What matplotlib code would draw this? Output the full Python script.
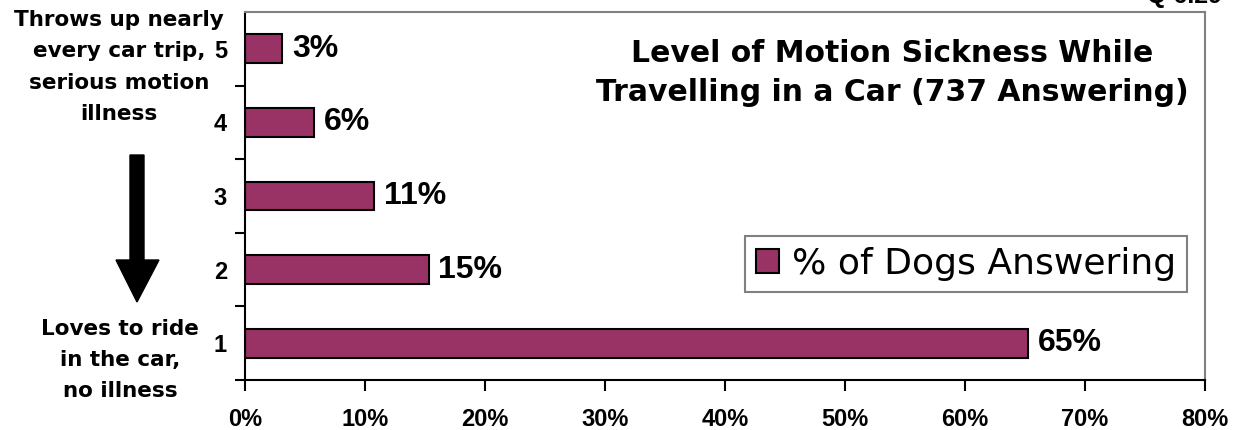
import matplotlib
matplotlib.use("Agg")
import matplotlib.pyplot as plt
from matplotlib import font_manager
from matplotlib.font_manager import FontProperties
from matplotlib.patches import Polygon

# Daten
stufen = [1, 2, 3, 4, 5]
stufen_labels = ["1", "2", "3", "4", "5"]
anteile = [65.25, 15.3, 10.75, 5.75, 3.1]
wert_labels = ["65%", "15%", "11%", "6%", "3%"]
x_ticks = [0, 10, 20, 30, 40, 50, 60, 70, 80]
x_tick_labels = ["0%", "10%", "20%", "30%", "40%", "50%", "60%", "70%", "80%"]

titel = "Level of Motion Sickness While\nTravelling in a Car (737 Answering)"
legende = "% of Dogs Answering"
text_oben = "Throws up nearly\nevery car trip,\nserious motion\nillness"
text_unten = "Loves to ride\nin the car,\nno illness"
frage = "Q 6.29"

FARBE = "#993366"
W, H = 1236, 430

# Liberation Sans Bold (normale Breite) suchen, sonst DejaVu
_arial_datei = None
for f in font_manager.fontManager.ttflist:
    if (f.name == "Liberation Sans" and f.weight in (700, "bold")
            and f.style == "normal" and f.stretch == "normal"
            and "narrow" not in f.fname.lower()):
        _arial_datei = f.fname
        break


def arial_bold(size):
    if _arial_datei:
        return FontProperties(fname=_arial_datei, size=size)
    return FontProperties(family="DejaVu Sans", weight="bold", size=size * 0.87)


fig = plt.figure(figsize=(W / 100, H / 100), dpi=100)
ax = fig.add_axes([245 / W, 1 - 380 / H, 960 / W, 368 / H])

balken = ax.barh(stufen, anteile, height=0.39, color=FARBE,
                 edgecolor="black", linewidth=1.5, label=legende)

for y, v, lab in zip(stufen, anteile, wert_labels):
    ax.text(v + 0.8, y, lab, va="center", ha="left", fontproperties=arial_bold(23))

ax.set_xlim(0, 80)
ax.set_ylim(0.5, 5.5)
ax.set_xticks(x_ticks)
ax.set_xticklabels(x_tick_labels, fontproperties=arial_bold(17))
ax.tick_params(axis="x", direction="out", length=8, width=1.5, pad=12)

ax.set_yticks(stufen)
ax.set_yticklabels(stufen_labels, fontproperties=arial_bold(17))
ax.tick_params(axis="y", which="major", length=0, pad=13)
ax.set_yticks([0.5, 1.5, 2.5, 3.5, 4.5], minor=True)
ax.tick_params(axis="y", which="minor", direction="out", length=7, width=1.5)

for s in ["left", "bottom"]:
    ax.spines[s].set_color("black")
    ax.spines[s].set_linewidth(1.5)
for s in ["top", "right"]:
    ax.spines[s].set_color("#808080")
    ax.spines[s].set_linewidth(1.5)

leg = ax.legend(loc="upper left", bbox_to_anchor=(0.521, 0.391), borderaxespad=0,
                fontsize=26, frameon=True, fancybox=False, framealpha=1,
                borderpad=0.3, handlelength=0.65, handleheight=0.65,
                handletextpad=0.35)
leg.get_frame().set_edgecolor("#808080")
leg.get_frame().set_linewidth(1.5)

# Titel und Beschriftungen links
fig.text(892 / W, 1 - 73 / H, titel, ha="center", va="center", fontsize=21.5,
         fontweight="bold", linespacing=1.45)
fig.text(119 / W, 1 - 67 / H, text_oben, ha="center", va="center", fontsize=15.5,
         fontweight="bold", linespacing=1.7)
fig.text(120 / W, 1 - 360 / H, text_unten, ha="center", va="center", fontsize=15.5,
         fontweight="bold", linespacing=1.7)
fig.text(1222 / W, 1 - 3 / H, frage, ha="right", va="baseline",
         fontproperties=arial_bold(18))

# Pfeil nach unten
pfeil = [(130, 155), (144, 155), (144, 260), (159, 260), (137, 302),
         (116, 260), (130, 260)]
pfeil = [(x / 100, (H - y) / 100) for x, y in pfeil]
fig.patches.append(Polygon(pfeil, closed=True, facecolor="black",
                           edgecolor="black", transform=fig.dpi_scale_trans))

fig.savefig("out.png", dpi=100)
